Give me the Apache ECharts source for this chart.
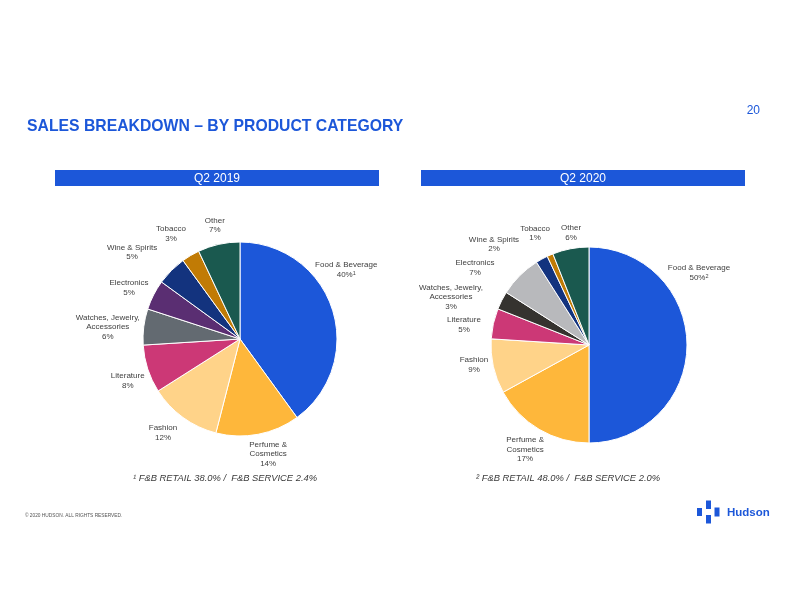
<!DOCTYPE html>
<html><head><meta charset="utf-8">
<script src="https://cdn.jsdelivr.net/npm/echarts@6/dist/echarts.min.js"></script>
<style>html,body{margin:0;padding:0;background:#fff}#c{width:792px;height:612px}</style>
</head><body><div id="c"></div>
<script>
// ---- data ----
const categories = ['Food & Beverage', 'Perfume &\nCosmetics', 'Fashion', 'Literature',
  'Watches, Jewelry,\nAccessories', 'Electronics', 'Wine & Spirits', 'Tobacco', 'Other'];
const values2019 = [40, 14, 12, 8, 6, 5, 5, 3, 7];
const values2020 = [50, 17, 9, 5, 3, 7, 2, 1, 6];
const periods = ['Q2 2019', 'Q2 2020'];
const footnoteMarks = ['1', '2'];
const footnotes = ['\u00B9 F&B RETAIL 38.0% /  F&B SERVICE 2.4%', '\u00B2 F&B RETAIL 48.0% /  F&B SERVICE 2.0%'];
const title = 'SALES BREAKDOWN \u2013 BY PRODUCT CATEGORY';
const pageNumber = '20';
const copyright = '\u00A9 2020 HUDSON. ALL RIGHTS RESERVED.';

// ---- styles ----
const colors2019 = ['#1c57d9', '#feb73b', '#ffd389', '#cc3876', '#636a71', '#5a2e72', '#13337e', '#c17b05', '#1a594f'];
const colors2020 = ['#1c57d9', '#feb73b', '#ffd389', '#cc3876', '#35332f', '#b8b9bc', '#13337e', '#c17b05', '#1a594f'];
// label nudges relative to the slice's outer mid-point
const nudge2019 = [[14,-39],[10,20],[-20,15.5],[-20,12],[-36,0],[-24.6,-7],[-39.4,-18],[-19.6,-21.5],[-4,-19]];
const nudge2020 = [[12,-72],[-14,20],[-19.4,-1.4],[-29.4,1],[-50.7,-3.5],[-44.7,-7.7],[-47.8,-14.7],[-15,-22],[0.4,-15.8]];
const BLUE = '#1c57d9';
const LABEL = '#404040';
const FONT = '"Liberation Sans", Arial, sans-serif';

function pieSeries(values, colors, nudges, center, radius, mark) {
  const total = values.reduce((a, b) => a + b, 0);
  return {
    type: 'pie',
    center: center,
    radius: radius,
    startAngle: 90,
    clockwise: true,
    avoidLabelOverlap: false,
    animation: false,
    itemStyle: { borderColor: '#ffffff', borderWidth: 1 },
    label: {
      show: true,
      position: 'outside',
      color: LABEL,
      fontFamily: FONT,
      fontSize: 8,
      lineHeight: 9.5,
      formatter: function (p) {
        return p.name + '\n' + p.value + '%' + (p.dataIndex === 0 ? '{sup|' + mark + '}' : '');
      },
      rich: {
        sup: { fontSize: 5.5, color: LABEL, fontFamily: FONT, verticalAlign: 'top', lineHeight: 9.5, padding: [0, 0, 3, 0] }
      }
    },
    labelLine: { show: true, length: 0, length2: 0, lineStyle: { opacity: 0, width: 0 } },
    emphasis: { disabled: true },
    labelLayout: function (p) {
      const i = p.dataIndex;
      let ax, ay;
      const pts = p.labelLinePoints;
      if (pts && pts[0]) { ax = pts[0][0]; ay = pts[0][1]; }
      else {
        let s = 0; for (let k = 0; k < i; k++) s += values[k];
        const a = (s + values[i] / 2) / total * Math.PI * 2;
        ax = center[0] + radius * Math.sin(a); ay = center[1] - radius * Math.cos(a);
      }
      return { x: ax + nudges[i][0], y: ay + nudges[i][1], align: 'center', verticalAlign: 'middle' };
    },
    data: categories.map((c, i) => ({ name: c, value: values[i], itemStyle: { color: colors[i] } }))
  };
}

const chart = echarts.init(document.getElementById('c'), null, { renderer: 'canvas' });

const graphics = [
  { type: 'text', x: 27, y: 127, style: { text: title, fill: BLUE, font: 'bold 15.75px ' + FONT, align: 'left', verticalAlign: 'middle' } },
  { type: 'text', x: 760, y: 111, style: { text: pageNumber, fill: BLUE, font: '12px ' + FONT, align: 'right', verticalAlign: 'middle' } },
  { type: 'rect', shape: { x: 55, y: 170, width: 324, height: 16 }, style: { fill: BLUE } },
  { type: 'rect', shape: { x: 421, y: 170, width: 324, height: 16 }, style: { fill: BLUE } },
  { type: 'text', x: 217, y: 178.5, style: { text: periods[0], fill: '#ffffff', font: '12px ' + FONT, align: 'center', verticalAlign: 'middle' } },
  { type: 'text', x: 583, y: 178.5, style: { text: periods[1], fill: '#ffffff', font: '12px ' + FONT, align: 'center', verticalAlign: 'middle' } },
  { type: 'text', x: 225, y: 478, style: { text: footnotes[0], fill: '#3a3a3a', font: 'italic 9.4px ' + FONT, align: 'center', verticalAlign: 'middle' } },
  { type: 'text', x: 568, y: 478, style: { text: footnotes[1], fill: '#3a3a3a', font: 'italic 9.4px ' + FONT, align: 'center', verticalAlign: 'middle' } },
  { type: 'text', x: 25, y: 516, style: { text: copyright, fill: '#555555', font: '4.8px ' + FONT, align: 'left', verticalAlign: 'middle' } },
  // Hudson logo
  { type: 'rect', shape: { x: 697, y: 508, width: 5, height: 8 }, style: { fill: BLUE } },
  { type: 'rect', shape: { x: 706, y: 500.5, width: 5, height: 8.5 }, style: { fill: BLUE } },
  { type: 'rect', shape: { x: 706, y: 515, width: 5, height: 8.5 }, style: { fill: BLUE } },
  { type: 'rect', shape: { x: 714.5, y: 507.5, width: 5, height: 9 }, style: { fill: BLUE } },
  { type: 'text', x: 727, y: 512.5, style: { text: 'Hudson', fill: BLUE, font: 'bold 11.5px ' + FONT, align: 'left', verticalAlign: 'middle' } }
];

chart.setOption({
  backgroundColor: '#ffffff',
  animation: false,
  graphic: graphics,
  series: [
    pieSeries(values2019, colors2019, nudge2019, [240, 339], 97, footnoteMarks[0]),
    pieSeries(values2020, colors2020, nudge2020, [589, 345], 98, footnoteMarks[1])
  ]
});
</script></body></html>
